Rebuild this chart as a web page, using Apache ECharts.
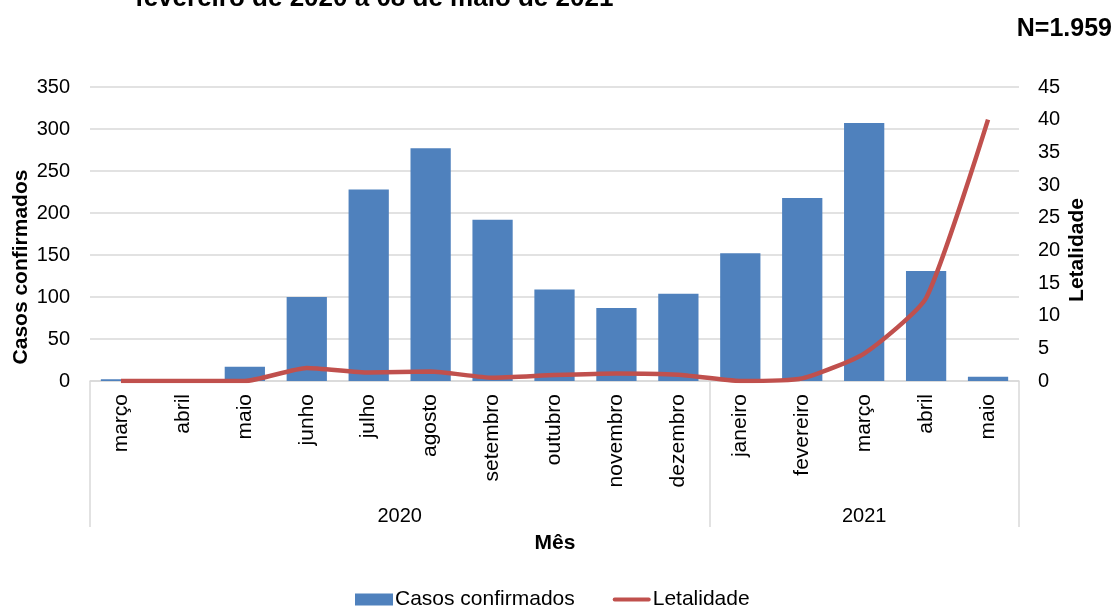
<!DOCTYPE html>
<html>
<head>
<meta charset="utf-8">
<script src="https://cdn.jsdelivr.net/npm/echarts@6/dist/echarts.min.js"></script>
<style>
  html, body { margin: 0; padding: 0; background: #ffffff; }
  #chart { width: 1118px; height: 606px; }
</style>
</head>
<body>
<div id="chart"></div>
<script>
// Meses do período (março/2020 a maio/2021)
const meses = ['março', 'abril', 'maio', 'junho', 'julho', 'agosto', 'setembro',
  'outubro', 'novembro', 'dezembro', 'janeiro', 'fevereiro', 'março', 'abril', 'maio'];
// Anos e posição (em meses) onde cada ano começa / termina no eixo
const anos = ['2020', '2021'];
const limitesAno = [0, 10, 15];
// Casos confirmados por mês
const casosConfirmados = [2, 0, 17, 100, 228, 277, 192, 109, 87, 104, 152, 218, 307, 131, 5];
// Letalidade (%) por mês
const letalidade = [0, 0, 0, 2.0, 1.3, 1.45, 0.5, 0.9, 1.15, 0.95, 0, 0.4, 4.2, 12.7, 40];
// Marcas dos eixos verticais
const ticksCasos = { min: 0, max: 350, interval: 50 };
const ticksLetalidade = { min: 0, max: 45, interval: 5 };

const FONT = '"Liberation Sans", Arial, Helvetica, sans-serif';
const GRID_COLOR = '#d9d9d9';
const COR_CASOS = '#4f81bd';
const COR_LETALIDADE = '#c0504d';

// centro de cada ano, em unidades de mês
const centrosAno = anos.map((a, i) => (limitesAno[i] + limitesAno[i + 1]) / 2);

const chart = echarts.init(document.getElementById('chart'), null, { renderer: 'canvas' });

chart.setOption({
  backgroundColor: '#ffffff',
  animation: false,
  textStyle: { fontFamily: FONT },
  title: [
    {
      text: 'fevereiro de 2020 a 08 de maio de 2021',
      left: 130, top: -19,
      textStyle: { fontFamily: FONT, fontSize: 26, fontWeight: 'bold', color: '#000' }
    },
    {
      text: 'N=1.959',
      right: 1, top: 12,
      textStyle: { fontFamily: FONT, fontSize: 25, fontWeight: 'bold', color: '#000' }
    }
  ],
  grid: { left: 90, right: 99, top: 87, bottom: 225, containLabel: false, outerBoundsMode: 'none' },
  legend: {
    top: 584,
    left: 350,
    itemGap: 38,
    itemWidth: 38,
    itemHeight: 12,
    symbolKeepAspect: true,
    textStyle: { fontFamily: FONT, fontSize: 21, color: '#000', padding: [0, 0, 0, -3] },
    data: [
      { name: 'Casos confirmados', icon: 'rect' },
      {
        name: 'Letalidade',
        // traço horizontal fino como ícone da linha
        icon: 'path://M2,0 L38,0 A2,2 0 0 1 38,4 L2,4 A2,2 0 0 1 2,0 Z',
        itemStyle: { color: COR_LETALIDADE }
      }
    ]
  },
  xAxis: [
    {
      type: 'category',
      data: meses,
      boundaryGap: true,
      axisLine: { show: true, lineStyle: { color: GRID_COLOR, width: 1.5 } },
      axisTick: { show: false },
      axisLabel: {
        interval: 0, rotate: 90, margin: 13,
        fontFamily: FONT, fontSize: 21, color: '#000'
      },
      splitLine: { show: false }
    },
    {
      // nível dos anos: separadores e rótulos
      type: 'value',
      position: 'bottom',
      min: limitesAno[0],
      max: limitesAno[limitesAno.length - 1],
      axisLine: { show: false },
      axisTick: {
        show: true, inside: false, length: 146,
        customValues: limitesAno,
        lineStyle: { color: GRID_COLOR, width: 1.5 }
      },
      axisLabel: {
        customValues: centrosAno,
        margin: 125,
        fontFamily: FONT, fontSize: 20, color: '#000',
        formatter: (v) => {
          const i = centrosAno.indexOf(v);
          return i >= 0 ? anos[i] : '';
        }
      },
      splitLine: { show: false }
    }
  ],
  yAxis: [
    {
      type: 'value',
      min: ticksCasos.min, max: ticksCasos.max, interval: ticksCasos.interval,
      axisLine: { show: false },
      axisTick: { show: false },
      axisLabel: { margin: 20, fontFamily: FONT, fontSize: 20, color: '#000' },
      splitLine: { show: true, lineStyle: { color: GRID_COLOR, width: 1.5 } }
    },
    {
      type: 'value',
      min: ticksLetalidade.min, max: ticksLetalidade.max, interval: ticksLetalidade.interval,
      axisLine: { show: false },
      axisTick: { show: false },
      axisLabel: { margin: 19, fontFamily: FONT, fontSize: 20, color: '#000' },
      splitLine: { show: false }
    }
  ],
  series: [
    {
      name: 'Casos confirmados',
      type: 'bar',
      xAxisIndex: 0,
      yAxisIndex: 0,
      data: casosConfirmados,
      barCategoryGap: '35%',
      itemStyle: { color: COR_CASOS }
    },
    {
      name: 'Letalidade',
      type: 'line',
      xAxisIndex: 0,
      yAxisIndex: 1,
      data: letalidade,
      smooth: 0.18,
      symbol: 'none',
      lineStyle: { color: COR_LETALIDADE, width: 4.5 },
      itemStyle: { color: COR_LETALIDADE }
    }
  ],
  graphic: [
    {
      type: 'text',
      x: 21, y: 267,
      rotation: Math.PI / 2,
      style: {
        text: 'Casos confirmados',
        font: 'bold 21px ' + FONT,
        fill: '#000',
        align: 'center',
        verticalAlign: 'middle'
      }
    },
    {
      type: 'text',
      x: 1077, y: 250,
      rotation: Math.PI / 2,
      style: {
        text: 'Letalidade',
        font: 'bold 21px ' + FONT,
        fill: '#000',
        align: 'center',
        verticalAlign: 'middle'
      }
    },
    {
      type: 'text',
      x: 555, y: 543,
      style: {
        text: 'Mês',
        font: 'bold 21px ' + FONT,
        fill: '#000',
        align: 'center',
        verticalAlign: 'middle'
      }
    }
  ]
});
</script>
</body>
</html>
